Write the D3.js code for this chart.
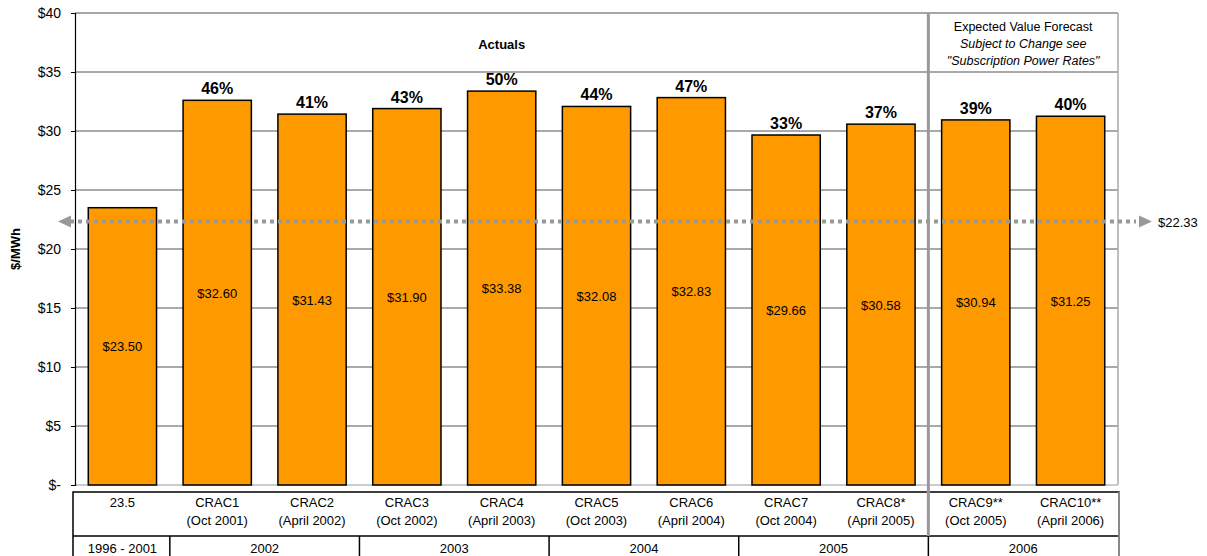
<!DOCTYPE html>
<html>
<head>
<meta charset="utf-8">
<script src="https://cdn.jsdelivr.net/npm/d3@7"></script>
<style>
  html, body { margin: 0; padding: 0; background: #fff; }
  svg { display: block; font-family: "Liberation Sans", Arial, sans-serif; }
</style>
</head>
<body>
<svg id="chart" width="1207" height="556"></svg>
<script>
// Rate categories (bottom table, first row)
const categories = ["23.5", "CRAC1", "CRAC2", "CRAC3", "CRAC4", "CRAC5", "CRAC6", "CRAC7", "CRAC8*", "CRAC9**", "CRAC10**"];
const periods = ["", "(Oct 2001)", "(April 2002)", "(Oct 2002)", "(April 2003)", "(Oct 2003)", "(April 2004)", "(Oct 2004)", "(April 2005)", "(Oct 2005)", "(April 2006)"];
// $/MWh rate for each category
const rates = [23.50, 32.60, 31.43, 31.90, 33.38, 32.08, 32.83, 29.66, 30.58, 30.94, 31.25];
// Percent increase over the 23.5 baseline
const increases = [null, "46%", "41%", "43%", "50%", "44%", "47%", "33%", "37%", "39%", "40%"];
// Year groups for the second table row: label, first category index, last category index
const yearLabels = ["1996 - 2001", "2002", "2003", "2004", "2005", "2006"];
const yearStart = [0, 1, 3, 5, 7, 9];
const yearEnd = [0, 2, 4, 6, 8, 10];
// Y axis ticks
const yTicks = [0, 5, 10, 15, 20, 25, 30, 35, 40];
// Reference level shown by the dotted arrow
const referenceRate = 22.33;
const forecastStart = 9;

const svg = d3.select("#chart");
const plotLeft = 75, plotRight = 1118, plotTop = 13, plotBottom = 485;

const x = d3.scaleBand().domain(d3.range(categories.length)).range([plotLeft, plotRight]).paddingInner(0.28).paddingOuter(0.14);
const xFull = d3.scaleBand().domain(d3.range(categories.length)).range([plotLeft, plotRight]);
const y = d3.scaleLinear().domain([0, 40]).range([plotBottom, plotTop]);

// Gridlines
svg.append("g").selectAll("line").data(yTicks.filter(d => d > 0 && d < 40)).join("line")
  .attr("x1", plotLeft).attr("x2", plotRight)
  .attr("y1", d => y(d)).attr("y2", d => y(d))
  .attr("stroke", "#555").attr("stroke-width", 1);

// Plot frame: top, right and bottom in gray
svg.append("line").attr("x1", plotLeft).attr("x2", plotRight).attr("y1", y(40)).attr("y2", y(40))
  .attr("stroke", "#888").attr("stroke-width", 1.5);
svg.append("line").attr("x1", plotRight).attr("x2", plotRight).attr("y1", y(40)).attr("y2", y(0))
  .attr("stroke", "#aaa").attr("stroke-width", 1.5);
svg.append("line").attr("x1", plotLeft).attr("x2", plotRight).attr("y1", y(0)).attr("y2", y(0))
  .attr("stroke", "#bbb").attr("stroke-width", 1.5);

// Y axis
const yAxis = d3.axisLeft(y).tickValues(yTicks).tickSize(4).tickPadding(10)
  .tickFormat(d => d === 0 ? "$-" : "$" + d);
const gy = svg.append("g").attr("transform", `translate(${plotLeft},0)`).call(yAxis);
gy.select(".domain").attr("stroke", "#000").attr("stroke-width", 1.2);
gy.selectAll(".tick line").attr("stroke", "#000");
gy.selectAll(".tick text").attr("font-size", 14).attr("fill", "#000")
  .attr("font-family", "'Liberation Sans', Arial, sans-serif");

// Axis title
svg.append("text").attr("transform", `translate(20,${(plotTop + plotBottom) / 2}) rotate(-90)`)
  .attr("text-anchor", "middle").attr("font-size", 13).attr("font-weight", "bold").text("$/MWh");

// Bars
svg.append("g").selectAll("rect").data(rates).join("rect")
  .attr("x", (d, i) => x(i)).attr("width", x.bandwidth())
  .attr("y", d => y(d)).attr("height", d => y(0) - y(d))
  .attr("fill", "#FF9900").attr("stroke", "#000").attr("stroke-width", 1.5);

// Value labels centred in bars
svg.append("g").selectAll("text").data(rates).join("text")
  .attr("x", (d, i) => x(i) + x.bandwidth() / 2)
  .attr("y", d => (y(d) + y(0)) / 2 + 5)
  .attr("text-anchor", "middle").attr("font-size", 13)
  .text(d => "$" + d.toFixed(2));

// Percent labels above bars
svg.append("g").selectAll("text").data(rates).join("text")
  .attr("x", (d, i) => x(i) + x.bandwidth() / 2)
  .attr("y", d => y(d) - 6)
  .attr("text-anchor", "middle").attr("font-size", 16).attr("font-weight", "bold")
  .text((d, i) => increases[i] || "");

// Section headings
const forecastX = xFull(forecastStart);
svg.append("text").attr("x", (plotLeft + forecastX) / 2).attr("y", 49)
  .attr("text-anchor", "middle").attr("font-size", 13).attr("font-weight", "bold").text("Actuals");
const fcx = (forecastX + plotRight) / 2;
svg.append("text").attr("x", fcx).attr("y", 31).attr("text-anchor", "middle").attr("font-size", 12.5)
  .text("Expected Value Forecast");
svg.append("text").attr("x", fcx).attr("y", 48).attr("text-anchor", "middle").attr("font-size", 12.5)
  .attr("font-style", "italic").text("Subject to Change see");
svg.append("text").attr("x", fcx).attr("y", 65).attr("text-anchor", "middle").attr("font-size", 12.5)
  .attr("font-style", "italic").text("\"Subscription Power Rates\"");

// Reference dotted arrow
const ry = y(referenceRate);
svg.append("line").attr("x1", 70).attr("x2", 1136).attr("y1", ry).attr("y2", ry)
  .attr("stroke", "#999").attr("stroke-width", 4).attr("stroke-dasharray", "4,4");
svg.append("path").attr("d", `M58,${ry} L71,${ry - 6} L71,${ry + 6} Z`).attr("fill", "#999");
svg.append("path").attr("d", `M1152,${ry} L1139,${ry - 6} L1139,${ry + 6} Z`).attr("fill", "#999");
svg.append("text").attr("x", 1158).attr("y", ry + 5).attr("font-size", 13).text("$" + referenceRate.toFixed(2));

// Bottom table
const t1 = 492, t2 = 536, t3 = 562;
const tl = 73, tr = 1119;
svg.append("rect").attr("x", tl).attr("y", t1).attr("width", tr - tl).attr("height", t3 - t1)
  .attr("fill", "none").attr("stroke", "#000").attr("stroke-width", 1.5);
svg.append("line").attr("x1", tl).attr("x2", tr).attr("y1", t2).attr("y2", t2)
  .attr("stroke", "#000").attr("stroke-width", 1.5);
svg.append("line").attr("x1", tr).attr("x2", tr).attr("y1", t1).attr("y2", t3)
  .attr("stroke", "#888").attr("stroke-width", 2);

svg.append("g").selectAll("text").data(categories).join("text")
  .attr("x", (d, i) => xFull(i) + xFull.bandwidth() / 2).attr("y", 507)
  .attr("text-anchor", "middle").attr("font-size", 13).text(d => d);
svg.append("g").selectAll("text").data(periods).join("text")
  .attr("x", (d, i) => xFull(i) + xFull.bandwidth() / 2).attr("y", 525)
  .attr("text-anchor", "middle").attr("font-size", 13).text(d => d);

// Year group separators and labels
svg.append("g").selectAll("line").data(yearStart.slice(1)).join("line")
  .attr("x1", d => xFull(d)).attr("x2", d => xFull(d)).attr("y1", t2).attr("y2", t3)
  .attr("stroke", "#000").attr("stroke-width", 1.5);
svg.append("g").selectAll("text").data(yearLabels).join("text")
  .attr("x", (d, i) => (xFull(yearStart[i]) + xFull(yearEnd[i]) + xFull.bandwidth()) / 2)
  .attr("y", 553).attr("text-anchor", "middle").attr("font-size", 13).text(d => d);

// Forecast divider
svg.append("line").attr("x1", forecastX).attr("x2", forecastX).attr("y1", plotTop).attr("y2", t2)
  .attr("stroke", "#999").attr("stroke-width", 3);
</script>
</body>
</html>
